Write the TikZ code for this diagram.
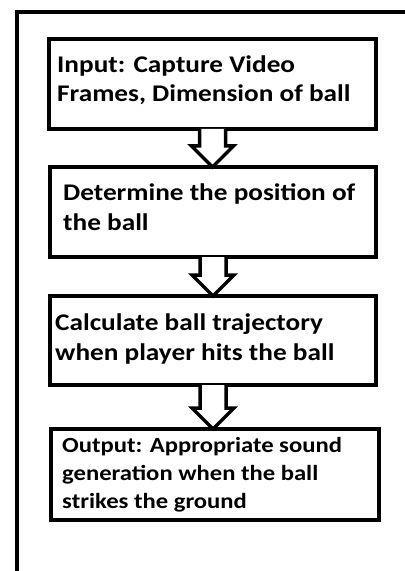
\documentclass[tikz,border=0pt]{standalone}
\usepackage{fontspec}
\setmainfont[FakeStretch=1.14]{Carlito}
\usetikzlibrary{calc}

\tikzset{
  stepbox/.style={draw=black, line width=4bp, rectangle, inner sep=0pt, outer sep=0pt},
  steptext/.style={anchor=base west, inner sep=0pt, align=left,
    font=\fontsize{24}{30}\selectfont\bfseries},
  arrowline/.style={draw=black, line width=3.5bp, fill=white, line join=miter},
  frameline/.style={draw=black, line width=4bp}
}

% hollow block arrow from the bottom of one box to the top of the next
\newcommand\flowarrow[2]{%
  \draw[arrowline] let \p1=(#1.south), \p2=(#2.north) in
    (\x1-13bp,\y1) -- (\x1-13bp,\y2+21bp) -- (\x1-21bp,\y2+21bp) -- (\x1,\y2)
    -- (\x1+21bp,\y2+21bp) -- (\x1+13bp,\y2+21bp) -- (\x1+13bp,\y1);}

\begin{document}
\begin{tikzpicture}[x=1bp, y=-1bp]
  \useasboundingbox (0,0) rectangle (404,571);

  % outer frame (only top and left edges lie on the page)
  \draw[frameline] (17,580) -- (17,12) -- (420,12);

  % process boxes
  \node[stepbox, minimum width=327bp, minimum height=90bp] (b1) at (212.5,84) {};
  \node[stepbox, minimum width=326bp, minimum height=90bp] (b2) at (213,212) {};
  \node[stepbox, minimum width=326bp, minimum height=89bp] (b3) at (213,340.5) {};
  \node[stepbox, minimum width=328bp, minimum height=91bp] (b4) at (215,474.5) {};

  % connectors
  \flowarrow{b1}{b2}
  \flowarrow{b2}{b3}
  \flowarrow{b3}{b4}

  % box texts (anchored at the baseline of their last line)
  \node[steptext] (t1) at (57,102) {Input: Capture Video\\Frames, Dimension of ball};
  \node[steptext] (t2) at (63,230) {Determine the position of\\the ball};
  \node[steptext] (t3) at (55,360) {Calculate ball trajectory\\when player hits the ball};
  \node[steptext, font=\fontsize{21.7}{28}\selectfont\bfseries] (t4) at (62,508)
    {Output: Appropriate sound\\generation when the ball\\strikes the ground};
\end{tikzpicture}
\end{document}
